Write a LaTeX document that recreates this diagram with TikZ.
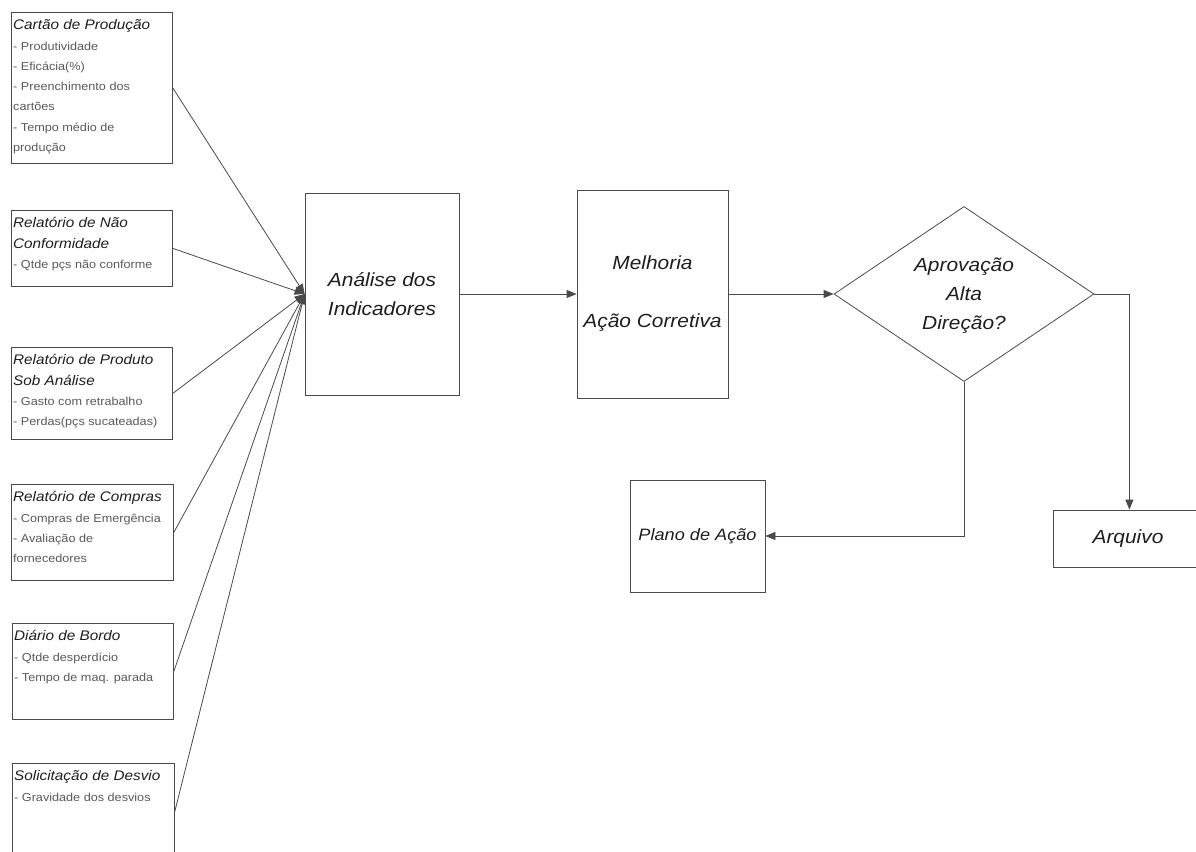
\documentclass[tikz,border=0pt]{standalone}
\usepackage{fontspec}
\setmainfont[FakeStretch=1.1]{Liberation Sans}
\usetikzlibrary{shapes.geometric,arrows.meta,calc}
\definecolor{linegray}{HTML}{4A4A4A}
\definecolor{bullgray}{HTML}{5A5A5A}
\definecolor{titlegray}{HTML}{1E1E1E}
\tikzset{
  frame/.style={draw=linegray, line width=0.8pt, inner sep=0pt},
  list/.style={anchor=north west, inner sep=0pt, align=left, text=bullgray,
    font=\fontsize{11.5}{20.3}\selectfont},
  big/.style={font=\fontsize{19}{29}\selectfont\itshape, align=center, text=titlegray},
  link/.style={draw=linegray, line width=0.8pt},
  arr/.style={link, -{Triangle[length=10pt,width=8pt]}},
}
\newcommand\ttl[1]{{\fontsize{13.9}{20.3}\selectfont\itshape\color{titlegray}#1}}
\begin{document}
\begin{tikzpicture}[x=1pt,y=-1pt]
\useasboundingbox (0,0) rectangle (1196,851);
\clip (0,0) rectangle (1196,851);

% source reports (left column)
\node[frame, anchor=north west, minimum width=161pt, minimum height=151pt] (b1) at (11,12) {};
\node[frame, anchor=north west, minimum width=161pt, minimum height=76pt] (b2) at (11,210) {};
\node[frame, anchor=north west, minimum width=161pt, minimum height=92pt] (b3) at (11,347) {};
\node[frame, anchor=north west, minimum width=162pt, minimum height=96pt] (b4) at (11,484) {};
\node[frame, anchor=north west, minimum width=161pt, minimum height=96pt] (b5) at (12,623) {};
\node[frame, anchor=north west, minimum width=162pt, minimum height=96pt] (b6) at (12,763) {};

\node[list] (t1) at ($(b1.north west)+(2,7.5)$) {\ttl{Cartão de Produção}\\- Produtividade\\- Eficácia(\%)\\- Preenchimento dos\\cartões\\- Tempo médio de\\produção};
\node[list] (t2) at ($(b2.north west)+(2,7.5)$) {\ttl{Relatório de Não}\\\ttl{Conformidade}\\- Qtde pçs não conforme};
\node[list] (t3) at ($(b3.north west)+(2,7.5)$) {\ttl{Relatório de Produto}\\\ttl{Sob Análise}\\- Gasto com retrabalho\\- Perdas(pçs sucateadas)};
\node[list] (t4) at ($(b4.north west)+(2,7.5)$) {\ttl{Relatório de Compras}\\- Compras de Emergência\\- Avaliação de\\fornecedores};
\node[list] (t5) at ($(b5.north west)+(2,7.5)$) {\ttl{Diário de Bordo}\\- Qtde desperdício\\- Tempo de maq. parada};
\node[list] (t6) at ($(b6.north west)+(2,7.5)$) {\ttl{Solicitação de Desvio}\\- Gravidade dos desvios};

% main flow
\node[frame, big, minimum width=154pt, minimum height=202pt] (an) at (382,294) {Análise dos\\Indicadores};
\node[frame, big, minimum width=151pt, minimum height=208pt] (me) at (652.5,294) {Melhoria\\[29pt]Ação Corretiva};
\node[draw=linegray, line width=0.8pt, diamond, inner sep=0pt, minimum width=260pt, minimum height=175pt] (dm) at (964,294) {};
\node[big, inner sep=0pt] (dt) at (964,296) {Aprovação\\Alta\\Direção?};
\node[frame, big, minimum width=135pt, minimum height=112pt] (pl) at (697.5,536) {\fontsize{16.5}{20}\selectfont Plano de Ação};
\node[frame, big, minimum width=150pt, minimum height=57pt] (ar) at (1128,538.5) {Arquivo};

% inputs converging on the analysis
\foreach \b in {b1,b2,b3,b4,b5,b6}
  \draw[arr] (\b.east) -- (an.west);

\draw[arr] (an.east) -- (an.east -| me.west);
\draw[arr] (me.east) -- (me.east -| dm.west);
\coordinate (rt) at ($(dm.east)+(35,0)$);
\draw[arr] (dm.east) -- (rt) -- (rt |- ar.north);
\draw[arr] (dm.south) -- (dm.south |- pl.east) -- (pl.east);
\end{tikzpicture}
\end{document}
